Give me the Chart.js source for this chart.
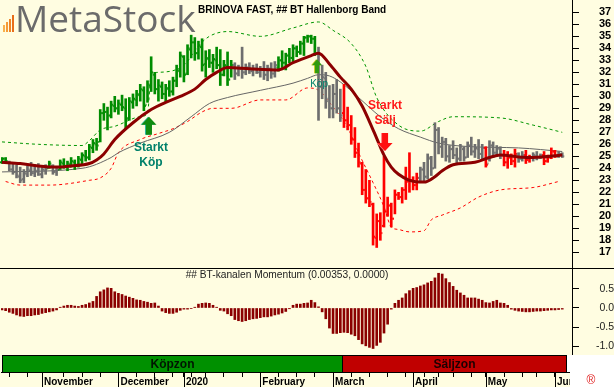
<!DOCTYPE html>
<html>
<head>
<meta charset="utf-8">
<title>BRINOVA FAST</title>
<script src="https://cdn.jsdelivr.net/npm/chart.js@4.4.1/dist/chart.umd.min.js"></script>
<style>
  html, body { margin: 0; padding: 0; background: #fffde1; }
  #box { position: relative; width: 614px; height: 387px; }
  canvas { display: block; }
</style>
</head>
<body>
<div id="box"><canvas id="priceChart" width="614" height="387"></canvas></div>
<script>
// Daily bars, 17 Oct 2019 - 3 Jun 2020 (index = trading day)
const highs = [
  24.9,24.9,24.6,24.4,24.3,24.1,23.9,24.2,24.5,24.3,
  24.4,24.2,24.3,24.6,24.3,24.1,24.7,24.8,24.6,24.9,
  24.7,25.0,25.3,25.5,26.0,26.4,26.5,28.9,29.4,29.1,
  29.6,30.0,29.7,30.1,29.8,29.9,30.2,30.5,31.0,30.8,
  31.3,33.3,32.0,31.4,31.2,31.0,31.3,31.6,32.6,33.7,
  33.4,34.3,35.1,34.9,34.6,34.8,33.8,33.9,33.5,34.1,
  33.9,33.0,33.7,33.0,32.8,32.6,34.1,32.7,32.8,32.6,
  32.7,32.5,32.9,32.6,32.8,32.9,33.3,33.8,33.6,34.0,
  34.3,34.2,34.6,35.0,35.1,35.1,35.0,34.1,32.6,32.0,
  30.9,31.0,31.4,30.6,31.0,29.1,28.4,27.4,26.1,24.5,
  23.9,23.0,21.1,20.2,20.3,25.0,21.6,21.1,22.2,22.0,
  22.4,24.1,25.3,23.3,23.6,24.1,24.5,25.2,25.0,27.8,
  27.4,26.6,26.5,25.9,26.3,25.7,26.0,25.8,26.2,26.6,
  26.0,26.4,26.0,25.8,26.3,26.2,25.9,25.8,25.5,25.4,
  25.2,25.6,25.3,25.4,25.5,25.1,25.3,25.4,25.2,25.4,
  25.1,25.7,25.5,25.4,25.3
];
const lows = [
  24.4,24.5,23.8,23.5,23.2,22.8,22.8,23.3,23.4,23.3,
  23.4,23.2,23.5,24.0,23.5,23.4,23.9,24.0,23.8,24.1,
  23.9,24.1,24.3,24.6,24.7,25.3,25.5,26.2,28.0,27.2,
  28.2,28.7,28.5,28.8,27.3,28.0,29.0,29.2,29.6,28.8,
  29.5,30.4,30.2,29.6,29.8,29.5,30.0,30.1,30.8,31.6,
  31.2,31.8,33.2,33.0,33.1,32.1,31.6,32.4,32.0,32.3,
  30.9,31.7,30.9,31.6,31.4,31.7,31.5,31.8,31.9,31.7,
  31.9,31.6,31.4,31.3,31.5,31.6,32.1,32.4,32.2,32.8,
  32.9,33.3,33.5,33.4,34.5,34.4,33.4,28.0,29.8,29.0,
  28.2,28.2,28.6,27.9,27.4,27.2,26.0,24.9,24.1,21.8,
  21.1,20.8,17.6,17.4,18.0,19.1,20.0,19.1,20.2,21.4,
  21.1,21.4,22.0,22.2,22.2,22.8,22.9,23.1,23.4,24.0,
  25.2,24.9,24.6,24.5,24.8,24.4,24.6,24.6,24.9,25.1,
  24.9,24.8,24.7,24.1,24.6,24.9,25.0,24.8,24.2,24.0,
  24.3,24.1,24.5,24.6,24.4,24.5,24.6,24.7,24.8,24.3,
  24.5,24.8,24.9,24.9,24.9
];
const opens = [
  24.5,24.8,24.5,23.9,23.7,23.3,23.1,23.5,23.8,23.6,
  23.7,23.5,23.8,24.0,24.2,23.7,23.9,24.4,24.2,24.3,
  24.5,24.3,24.7,25.0,24.9,25.7,26.0,26.2,28.6,28.7,
  28.4,29.2,29.0,29.3,29.0,28.2,29.5,29.7,30.1,30.5,
  29.3,30.9,31.8,30.6,30.8,30.2,30.6,30.4,31.3,32.1,
  33.3,31.9,33.9,34.5,33.6,34.1,32.7,33.1,32.8,33.0,
  32.6,31.8,32.5,31.4,32.6,31.9,32.3,32.0,32.4,32.1,
  32.3,32.0,32.2,31.8,32.3,31.9,32.4,33.0,32.8,33.4,
  33.2,34.0,33.7,34.4,34.9,35.0,34.8,33.6,30.8,31.5,
  29.8,29.0,30.2,29.0,28.6,28.0,27.6,26.4,25.3,24.4,
  22.2,21.5,21.0,18.2,19.6,19.2,20.4,20.9,19.8,21.8,
  21.6,22.2,22.9,23.0,22.6,23.2,23.9,23.3,24.8,24.0,
  27.2,25.8,26.2,25.0,25.6,25.1,24.8,25.6,24.9,25.9,
  25.4,25.6,25.2,25.7,24.4,25.9,25.3,25.6,25.1,24.5,
  24.9,24.6,25.2,24.8,25.1,24.7,24.9,25.0,24.9,25.1,
  24.6,24.9,25.4,25.0,25.2
];
const closes = [
  24.8,24.6,23.9,23.7,23.4,23.0,23.6,23.9,23.6,23.8,
  23.5,23.9,24.0,24.4,23.7,23.9,24.5,24.2,24.4,24.6,
  24.2,24.8,25.1,24.9,25.8,26.1,25.9,28.6,28.7,28.4,
  29.3,29.0,29.4,29.1,28.1,29.6,29.8,30.2,30.6,29.2,
  31.0,32.0,30.6,30.9,30.2,30.7,30.4,31.3,32.2,33.4,
  31.8,34.0,34.5,33.6,34.2,32.6,33.2,32.8,33.1,32.6,
  31.8,32.6,31.4,32.6,31.9,32.3,32.0,32.4,32.1,32.3,
  32.0,32.2,31.8,32.3,31.9,32.6,33.0,32.8,33.4,33.2,
  34.0,33.7,34.4,34.9,35.0,34.8,33.6,30.8,31.6,29.6,
  29.0,30.2,29.0,28.4,28.0,27.6,26.4,25.3,24.5,22.2,
  21.5,21.2,18.3,19.6,18.6,20.4,20.9,19.8,21.8,21.6,
  22.2,22.9,23.0,22.6,23.2,23.9,23.3,24.9,24.0,27.2,
  25.8,26.2,25.0,25.6,25.1,24.8,25.8,24.9,25.9,25.4,
  25.7,25.2,25.7,24.3,25.9,25.3,25.7,25.1,24.5,24.9,
  24.6,25.2,24.8,25.1,24.7,24.9,25.1,24.9,25.1,24.6,
  24.9,25.4,25.0,25.2,25.0
];
// g = buy (green), r = sell (red), k = neutral (grey)
const barTrend =
  'ggkkkkkkkk kkkgkkgggg gggggggggg gggggggggg gggggggggg gggggggggg ' +
  'ggggkkkkkk kkkkkkgggg gggggggkkk kkkkrrrrrr rrrrrrrrrr rrrrrkkkkk ' +
  'kkkkkkkkkk kkkrkkkkrr rrkkrrkkkr rrrkk';

// BT-kanalen Momentum
const momentum = [
  -0.05,-0.07,-0.11,-0.14,-0.18,-0.21,-0.22,-0.20,-0.20,-0.18,
  -0.17,-0.14,-0.12,-0.10,-0.08,-0.05,0.02,0.05,0.07,0.07,
  0.05,0.04,0.07,0.09,0.13,0.17,0.30,0.42,0.47,0.52,
  0.51,0.42,0.38,0.35,0.31,0.28,0.25,0.21,0.20,0.17,
  0.15,0.12,0.13,0.05,-0.08,-0.12,-0.14,-0.14,-0.11,-0.06,
  -0.03,-0.03,-0.01,0.02,0.10,0.12,0.13,0.12,0.07,0.02,
  -0.06,-0.08,-0.15,-0.20,-0.30,-0.33,-0.35,-0.33,-0.30,-0.28,
  -0.27,-0.25,-0.23,-0.23,-0.21,-0.18,-0.16,-0.13,-0.09,-0.02,
  0.07,0.10,0.10,0.12,0.13,0.20,0.14,0.03,-0.10,-0.28,
  -0.52,-0.66,-0.66,-0.64,-0.63,-0.64,-0.68,-0.72,-0.82,-0.93,
  -0.98,-1.02,-1.05,-0.97,-0.89,-0.65,-0.42,-0.03,0.12,0.20,
  0.26,0.37,0.45,0.51,0.53,0.57,0.60,0.65,0.69,0.78,
  0.90,0.88,0.76,0.66,0.56,0.46,0.39,0.33,0.26,0.26,
  0.26,0.23,0.20,0.14,0.13,0.17,0.20,0.13,0.12,0.07,
  -0.03,-0.06,-0.08,-0.09,-0.10,-0.10,-0.09,-0.08,-0.08,-0.07,
  -0.06,-0.05,-0.05,-0.04,-0.03
];

// Indicator lines, read at these bar indexes
const fastMaIdx = [0,5,10,15,19,24,26,28,31,36,41,45,49,53,56,59,62,68,76,80,85,87,90,93,96,99,101,103,105,107,109,112,116,119,121,124,130,134,137,142,146,154];
const fastMaVal = [24.5,24.4,24.2,24.1,24.2,24.4,24.7,25.2,26.4,27.8,28.9,29.5,30.0,30.6,31.4,32.0,32.4,32.3,32.2,32.8,33.4,33.6,32.7,31.6,30.6,29.2,27.9,26.5,25.1,24.1,23.5,23.0,22.85,23.3,23.8,24.3,24.5,24.9,25.1,24.95,24.9,25.1];
const slowMaIdx = [0,22,30,32,38,46,52,57,62,71,80,84,87,90,93,98,104,109,115,120,129,142,154];
const slowMaVal = [23.7,24.0,24.9,25.3,26.1,27.0,28.3,29.4,29.9,30.5,31.1,31.5,31.8,31.7,31.2,29.9,28.3,27.3,26.6,26.1,25.8,25.7,25.4];
const bandUpIdx = [0,10,22,24,27,31,38,40,41,43,50,54,57,62,71,80,87,91,96,100,103,109,115,120,124,137,146,154];
const bandUpVal = [26.2,26.0,25.9,26.3,27.2,27.5,28.3,28.6,31.8,32.0,32.6,34.2,35.0,35.4,35.0,35.7,36.2,35.5,34.4,32.5,29.9,27.6,27.1,27.9,28.3,28.2,27.6,27.0];
const bandLoIdx = [1,5,13,24,27,30,32,38,43,47,51,55,58,63,71,78,84,87,91,95,98,102,105,107,109,112,116,118,121,126,131,137,146,153];
const bandLoVal = [22.9,22.6,22.6,23.0,23.2,24.0,25.3,26.4,26.9,27.3,27.9,28.7,29.0,29.0,29.7,29.7,30.7,30.5,29.1,27.4,25.3,22.8,20.8,19.1,18.9,18.7,18.8,19.7,20.1,20.7,21.6,22.2,22.4,22.9];

// Axis ticks
const monthTickIdx = [11,32,50,71,91,113,133,152];
const monthLabels = ['November','December','2020','February','March','April','May','June'];
const weekTickIdx = [2,7,17,22,27,37,42,47,52,56,61,66,76,81,86,96,101,106,111,116,120,124,129,138,143,147];
const priceTicks = [17,18,19,20,21,22,23,24,25,26,27,28,29,30,31,32,33,34,35,36,37];
const momentumTicks = [-1,-0.5,0,0.5];

// Zones and signals
const zoneNames = ['Köpzon','Säljzon'];
const zoneFrom = [0, 93.5];
const zoneTo = [93.5, 154.9];
const signalIdx = [40.4, 86.6, 105.3];
const signalPrice = [28.3, 33.1, 25.45];
const signalText = [['Starkt','Köp'], ['Köp'], ['Starkt','Sälj']];

const chartTitle = 'BRINOVA FAST, ## BT Hallenborg Band';
const momentumTitle = '## BT-kanalen Momentum (0.00353, 0.0000)';

// ---- drawing ----
Chart.defaults.font.family = '"Liberation Sans", Arial, sans-serif';
const BG = '#fffde1';
const trendColors = { g: '#008c00', r: '#ff0000', k: '#6e6e6e' };
const trend = barTrend.replace(/ /g, '').split('');
const zoneColors = ['#009000', '#c00000'];
const pts = (xs, ys) => xs.map((x, k) => ({ x: x, y: ys[k] }));

const backdrop = {
    id: 'backdrop',
    beforeDraw(chart) {
        const ctx = chart.ctx;
        ctx.save();
        ctx.fillStyle = BG;
        ctx.fillRect(0, 0, chart.width, chart.height);
        ctx.restore();
    }
};

// open / close nubs on the price bars
const ohlcTicks = {
    id: 'ohlcTicks',
    afterDatasetDraw(chart, args) {
        if (args.index !== 0) return;
        const ctx = chart.ctx, xs = chart.scales.x, ys = chart.scales.y;
        ctx.save();
        closes.forEach((c, i) => {
            const x = xs.getPixelForValue(i);
            ctx.fillStyle = trendColors[trend[i]];
            ctx.fillRect(x - 2, ys.getPixelForValue(opens[i]) - 1, 1, 2);
            ctx.fillRect(x + 1, ys.getPixelForValue(c) - 1, 1, 2);
        });
        ctx.restore();
    }
};

const zoneBar = {
    id: 'zoneBar',
    afterDatasetsDraw(chart) {
        const ctx = chart.ctx, xs = chart.scales.x, zs = chart.scales.y3;
        const top = Math.round(zs.top) + 0.5, bottom = Math.round(zs.bottom) + 0.5;
        ctx.save();
        zoneNames.forEach((name, k) => {
            const x0 = Math.round(xs.getPixelForValue(zoneFrom[k])) + 0.5;
            const x1 = Math.round(xs.getPixelForValue(zoneTo[k])) + 0.5;
            ctx.fillStyle = zoneColors[k];
            ctx.fillRect(x0, top, x1 - x0, bottom - top);
            ctx.strokeStyle = '#000';
            ctx.lineWidth = 1;
            ctx.strokeRect(x0, top, x1 - x0, bottom - top);
            ctx.fillStyle = 'rgba(0,0,0,0.85)';
            ctx.font = 'bold 12px "Liberation Sans", Arial, sans-serif';
            ctx.textAlign = 'center';
            ctx.textBaseline = 'middle';
            ctx.fillText(name, (x0 + x1) / 2, (top + bottom) / 2 + 1);
        });
        ctx.restore();
    }
};

function drawArrow(ctx, x, tipY, up, len, headW, headH, shaftW) {
    const d = up ? 1 : -1;
    ctx.beginPath();
    ctx.moveTo(x, tipY);
    ctx.lineTo(x + headW / 2, tipY + d * headH);
    ctx.lineTo(x + shaftW / 2, tipY + d * headH);
    ctx.lineTo(x + shaftW / 2, tipY + d * len);
    ctx.lineTo(x - shaftW / 2, tipY + d * len);
    ctx.lineTo(x - shaftW / 2, tipY + d * headH);
    ctx.lineTo(x - headW / 2, tipY + d * headH);
    ctx.closePath();
    ctx.fill();
}

const decorations = {
    id: 'decorations',
    afterDraw(chart) {
        const ctx = chart.ctx, xs = chart.scales.x, ys = chart.scales.y, ms = chart.scales.y2;
        const zoneTop = Math.round(chart.scales.y3.top);
        ctx.save();
        ctx.strokeStyle = '#000';
        ctx.lineWidth = 1;
        // panel separator
        const sep = Math.round(ms.top) + 0.5;
        ctx.beginPath(); ctx.moveTo(0, sep); ctx.lineTo(chart.width, sep); ctx.stroke();
        // long month ticks under the zone bar
        monthTickIdx.forEach(i => {
            const x = Math.round(xs.getPixelForValue(i)) + 0.5;
            ctx.beginPath(); ctx.moveTo(x, xs.top); ctx.lineTo(x, chart.height); ctx.stroke();
        });
        // blank corner under the price scale
        ctx.fillStyle = '#ffffff';
        ctx.fillRect(567, zoneTop, chart.width - 567, xs.top - zoneTop);
        ctx.fillRect(570, xs.top, chart.width - 570, chart.height - xs.top);

        // logo
        const grad = ['#f9b04a', '#f59a36', '#ef8426', '#e86d1a'];
        [7, 10, 13, 17].forEach((h, k) => {
            ctx.fillStyle = grad[k];
            ctx.fillRect(3 + k * 3, 32 - h, 2, h);
        });
        ctx.fillStyle = '#6b6b6b';
        ctx.font = '37px "Open Sans", sans-serif';
        ctx.textAlign = 'left';
        ctx.textBaseline = 'alphabetic';
        ctx.fillText('MetaStock', 15, 32);

        // titles
        ctx.fillStyle = '#000';
        ctx.font = 'bold 10px "Liberation Sans", Arial, sans-serif';
        ctx.textBaseline = 'middle';
        ctx.fillText(chartTitle, 198, 10);
        ctx.fillStyle = '#222';
        ctx.font = '10.2px "Liberation Sans", Arial, sans-serif';
        ctx.textAlign = 'center';
        ctx.fillText(momentumTitle, 287, 275);

        // signals
        signalIdx.forEach((idx, k) => {
            const x = xs.getPixelForValue(idx);
            const tip = ys.getPixelForValue(signalPrice[k]);
            const sell = signalText[k][1] === 'Sälj';
            const big = signalText[k].length > 1;
            const len = big ? 18 : 14, hw = big ? 15 : 10, hh = big ? 8 : 6, sw = big ? 6 : 4;
            if (sell) {
                ctx.fillStyle = '#ff8080';
                drawArrow(ctx, x - 1, tip, false, len, hw, hh, sw);
                ctx.fillStyle = '#ff1010';
                drawArrow(ctx, x, tip, false, len, hw, hh, sw);
            } else {
                ctx.fillStyle = big ? '#30b8a0' : '#c8c820';
                drawArrow(ctx, x - 1, tip, true, len, hw, hh, sw);
                ctx.fillStyle = big ? '#108c10' : '#2f9a10';
                drawArrow(ctx, x, tip, true, len, hw, hh, sw);
            }
            ctx.textAlign = 'center';
            ctx.textBaseline = 'middle';
            ctx.fillStyle = sell ? '#ff1a1a' : '#00806a';
            ctx.font = big ? 'bold 12px "Liberation Sans", Arial, sans-serif'
                           : '10px "Liberation Sans", Arial, sans-serif';
            signalText[k].forEach((line, j) => {
                let y;
                if (sell) y = tip - len - 27 + j * 15;
                else y = tip + len + (big ? 13 : 11) + j * 15;
                ctx.fillText(line, x + (sell ? 0 : 2), y);
            });
        });

        // registered mark
        ctx.fillStyle = '#e02020';
        ctx.font = '12px "Liberation Sans", Arial, sans-serif';
        ctx.textAlign = 'center';
        ctx.fillText('®', 591, 381);
        ctx.restore();
    }
};

// fixed axis sizes, no automatic label padding
const fixWidth = s => { s.width = 42; s.paddingTop = 0; s.paddingBottom = 0; };

new Chart(document.getElementById('priceChart'), {
    type: 'bar',
    data: {
        datasets: [
            {
                type: 'bar',
                label: 'Pris',
                yAxisID: 'y',
                data: highs.map((h, i) => ({ x: i, y: [lows[i], h] })),
                backgroundColor: trend.map(t => trendColors[t]),
                barThickness: 2,
                grouped: false,
                order: 3
            },
            {
                type: 'bar',
                label: 'Momentum',
                yAxisID: 'y2',
                data: momentum.map((m, i) => ({ x: i, y: m })),
                backgroundColor: '#8b0000',
                barThickness: 2,
                grouped: false,
                order: 3
            },
            {
                type: 'line',
                label: 'Slow',
                yAxisID: 'y',
                data: pts(slowMaIdx, slowMaVal),
                borderColor: '#666666',
                borderWidth: 1,
                pointRadius: 0,
                cubicInterpolationMode: 'monotone',
                order: 5
            },
            {
                type: 'line',
                label: 'Upper',
                yAxisID: 'y',
                data: pts(bandUpIdx, bandUpVal),
                borderColor: '#009600',
                borderWidth: 1,
                borderDash: [3, 3],
                pointRadius: 0,
                cubicInterpolationMode: 'monotone',
                order: 5
            },
            {
                type: 'line',
                label: 'Lower',
                yAxisID: 'y',
                data: pts(bandLoIdx, bandLoVal),
                borderColor: '#ff0000',
                borderWidth: 1,
                borderDash: [3, 3],
                pointRadius: 0,
                cubicInterpolationMode: 'monotone',
                order: 5
            },
            {
                type: 'line',
                label: 'Fast',
                yAxisID: 'y',
                data: pts(fastMaIdx, fastMaVal),
                borderColor: '#8c0000',
                borderWidth: 3,
                pointRadius: 0,
                cubicInterpolationMode: 'monotone',
                order: 1
            }
        ]
    },
    options: {
        responsive: false,
        animation: false,
        layout: { padding: { left: 1, right: 0, top: 0, bottom: 0 } },
        plugins: { legend: { display: false }, tooltip: { enabled: false } },
        scales: {
            x: {
                type: 'linear',
                min: -0.275,
                max: 156.68,
                offset: false,
                grid: { offset: false, drawOnChartArea: false, tickLength: 5, tickColor: '#000' },
                border: { display: true, color: '#000' },
                afterBuildTicks: s => {
                    s.ticks = monthTickIdx.concat(weekTickIdx).sort((a, b) => a - b).map(v => ({ value: v }));
                },
                afterFit: s => { s.height = 15; s.paddingLeft = 0; s.paddingRight = 0; },
                ticks: {
                    autoSkip: false,
                    maxRotation: 0,
                    align: 'start',
                    labelOffset: 2,
                    padding: 0,
                    color: '#000',
                    font: { size: 10, weight: 'bold', lineHeight: 1 },
                    callback: v => {
                        const k = monthTickIdx.indexOf(v);
                        return k >= 0 ? monthLabels[k] : '';
                    }
                }
            },
            y: {
                type: 'linear',
                position: 'right',
                stack: 'panels',
                stackWeight: 268,
                min: 15.69,
                max: 38.03,
                beginAtZero: false,
                grid: { drawOnChartArea: false, tickLength: 7, tickColor: '#000' },
                border: { display: true, color: '#000' },
                afterBuildTicks: s => { s.ticks = priceTicks.map(v => ({ value: v })); },
                afterFit: fixWidth,
                ticks: {
                    autoSkip: false,
                    crossAlign: 'near',
                    padding: 20,
                    color: '#000',
                    font: { size: 11, weight: 'bold' },
                    callback: v => String(v)
                }
            },
            y2: {
                type: 'linear',
                position: 'right',
                stack: 'panels',
                stackWeight: 87,
                min: -1.218,
                max: 1.036,
                beginAtZero: false,
                grid: { drawOnChartArea: false, tickLength: 7, tickColor: '#000' },
                border: { display: true, color: '#000' },
                afterBuildTicks: s => { s.ticks = momentumTicks.map(v => ({ value: v })); },
                afterFit: fixWidth,
                ticks: {
                    autoSkip: false,
                    crossAlign: 'far',
                    padding: 13,
                    color: '#222',
                    font: { size: 10.5 },
                    callback: v => v.toFixed(1)
                }
            },
            y3: {
                type: 'linear',
                position: 'right',
                stack: 'panels',
                stackWeight: 17,
                min: 0,
                max: 1,
                grid: { display: false },
                border: { display: false },
                afterFit: fixWidth,
                ticks: { display: false }
            }
        }
    },
    plugins: [backdrop, ohlcTicks, zoneBar, decorations]
});
</script>
</body>
</html>
